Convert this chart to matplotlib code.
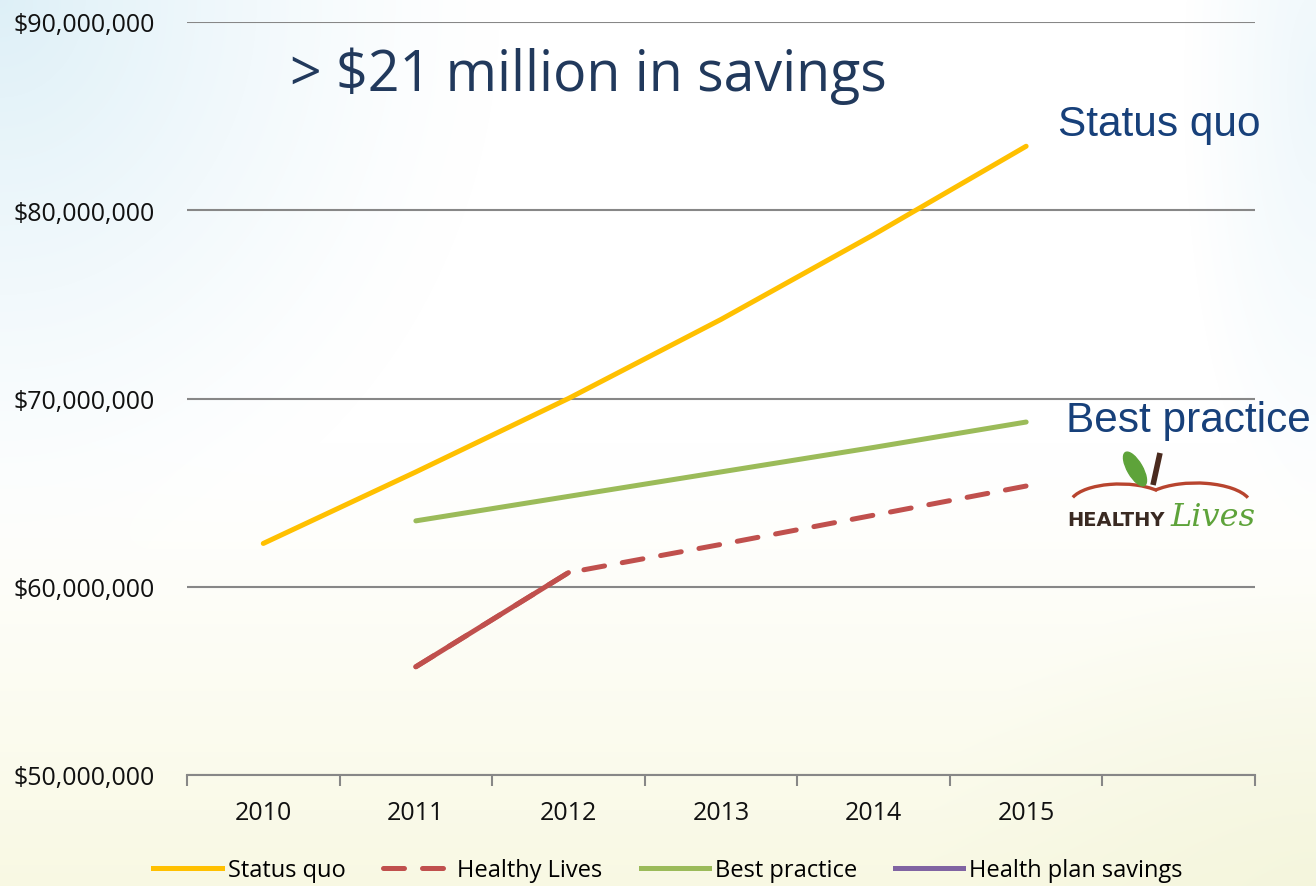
"""
Recreación del gráfico de ahorro Healthy Lives (2010-2015).
"""
import numpy as np
import matplotlib
matplotlib.use('Agg')
import matplotlib.pyplot as plt
from matplotlib.patches import Arc, Ellipse
from matplotlib.ticker import FuncFormatter

# ── Datos ─────────────────────────────────────────────────────────────────────
years         = ["2010", "2011", "2012", "2013", "2014", "2015", ""]
status_quo    = [62.3, 66.1, 70.0, 74.2, 78.7, 83.4, np.nan]
healthy_lives = [np.nan, 55.75, 60.75, 62.25, 63.8, 65.35, np.nan]
best_practice = [np.nan, 63.5, 64.8, 66.1, 67.4, 68.75, np.nan]
health_plan   = [np.nan] * 7          # serie sin datos visibles

series_names = ["Status quo", "Healthy Lives", "Best practice", "Health plan savings"]

# ── Estilos ───────────────────────────────────────────────────────────────────
YELLOW = "#FFC000"
RED    = "#C0504D"
GREEN  = "#9BBB59"
PURPLE = "#8064A2"
NAVY   = "#17407A"
GRID   = "#878787"
DASH   = (4.2, 3.6)

W, H = 1316, 887
fig = plt.figure(figsize=(W / 100, H / 100), dpi=100)

# ── Fondo degradado ───────────────────────────────────────────────────────────
yy, xx = np.mgrid[0:1:H * 1j, 0:1:W * 1j]
img = np.ones((H, W, 3))
blue = np.array([0.87, 0.94, 0.97])
cream = np.array([0.975, 0.975, 0.89])
green = np.array([0.94, 0.95, 0.84])
w_blue = np.clip(1 - np.hypot(xx / 0.38, yy / 0.65), 0, 1) ** 1.3
w_blue_r = np.clip(1 - np.hypot((1 - xx) / 0.10, (yy - 0.1) / 0.5), 0, 1) * 0.5
w_cream = np.clip((yy - 0.5) / 0.5, 0, 1) ** 1.3
w_green = np.clip(1 - np.hypot((1 - xx) / 0.3, (1 - yy) / 0.35), 0, 1) * 0.5
for w, c in [(w_blue, blue), (w_blue_r, blue), (w_cream, cream), (w_green, green)]:
    img = img * (1 - w[..., None]) + c * w[..., None]
bg = fig.add_axes([0, 0, 1, 1], zorder=-10)
bg.imshow(img, aspect="auto", extent=[0, 1, 0, 1], origin="upper")
bg.axis("off")

# ── Ejes ──────────────────────────────────────────────────────────────────────
ax = fig.add_axes([187 / W, 1 - 776 / H, (1255 - 187) / W, (776 - 23) / H])
ax.patch.set_alpha(0)
x = np.arange(len(years))

ax.plot(x, status_quo, color=YELLOW, lw=3.6, solid_capstyle="round", zorder=4)
ax.plot(x, best_practice, color=GREEN, lw=3.6, solid_capstyle="round", zorder=4)
ax.plot(x, healthy_lives, color=RED, lw=3.6, dashes=DASH,
        dash_capstyle="round", zorder=4)
ax.plot(x[1:3], healthy_lives[1:3], color=RED, lw=3.6,
        solid_capstyle="round", zorder=4)
ax.plot(x, health_plan, color=PURPLE, lw=3.6, zorder=4)

ax.set_xlim(-0.5, len(years) - 0.5)
ax.set_ylim(50, 90)
ax.set_yticks([50, 60, 70, 80, 90])
ax.yaxis.set_major_formatter(FuncFormatter(lambda v, p: f"${v * 1e6:,.0f}"))
ax.grid(axis="y", color=GRID, lw=1.5, zorder=1)
ax.set_axisbelow(True)

ax.set_xticks(x)
ax.set_xticklabels(years)
ax.set_xticks(np.arange(len(years) + 1) - 0.5, minor=True)
ax.tick_params(axis="x", which="major", length=0, pad=18)
ax.tick_params(axis="x", which="minor", length=8, width=1.5, color=GRID, direction="out")
ax.tick_params(axis="y", length=0, pad=23)
for lab in ax.get_xticklabels() + ax.get_yticklabels():
    lab.set_fontfamily("Open Sans")
    lab.set_fontsize(18)
    lab.set_color("#111111")
for s in ["left", "right", "top"]:
    ax.spines[s].set_visible(False)
ax.spines["bottom"].set_color(GRID)
ax.spines["bottom"].set_linewidth(1.5)

# ── Título y etiquetas ────────────────────────────────────────────────────────
fig.text(290 / W, 1 - 76 / H, "> $21 million in savings", fontsize=40,
         family="Open Sans", color="#21395C", ha="left", va="center")
fig.text(1058 / W, 1 - 125 / H, "Status quo", fontsize=30.5,
         family="Liberation Sans", color=NAVY, ha="left", va="center")
fig.text(1066 / W, 1 - 421 / H, "Best practice", fontsize=30.5,
         family="Liberation Sans", color=NAVY, ha="left", va="center")

# ── Logo Healthy Lives ────────────────────────────────────────────────────────
lg = fig.add_axes([1060 / W, 1 - 535 / H, 200 / W, 90 / H])
lg.set_xlim(0, 200)
lg.set_ylim(0, 90)
lg.axis("off")
lg.add_patch(Arc((60, 30), 100, 40, theta1=20, theta2=172, color="#B8442E", lw=2.4))
lg.add_patch(Arc((136, 29), 110, 44, theta1=8, theta2=160, color="#B8442E", lw=2.4))
lg.add_patch(Ellipse((75, 65), 15, 38, angle=30, color="#5EA33A"))
lg.plot([93, 100], [49, 81], color="#4A2A1E", lw=4, solid_capstyle="butt")
lg.text(7, 15, "HEALTHY", fontsize=14, fontweight="bold", family="Liberation Sans Narrow",
        color="#3A2A22", ha="left", va="center")
lg.text(110, 18, "Lives", fontsize=23, style="italic", family="DejaVu Serif",
        color="#5EA33A", ha="left", va="center")

# ── Leyenda ───────────────────────────────────────────────────────────────────
handles = [
    plt.Line2D([], [], color=YELLOW, lw=3.6),
    plt.Line2D([], [], color=RED, lw=3.6, dashes=DASH, dash_capstyle="round"),
    plt.Line2D([], [], color=GREEN, lw=3.6),
    plt.Line2D([], [], color=PURPLE, lw=3.6),
]
fig.legend(handles, series_names, loc="center", bbox_to_anchor=(668 / W, 1 - 871 / H),
           ncol=4, frameon=False, handlelength=2.9, handletextpad=0.25,
           columnspacing=1.6, prop={"family": "Open Sans", "size": 17})

fig.savefig("out.png", dpi=100)
